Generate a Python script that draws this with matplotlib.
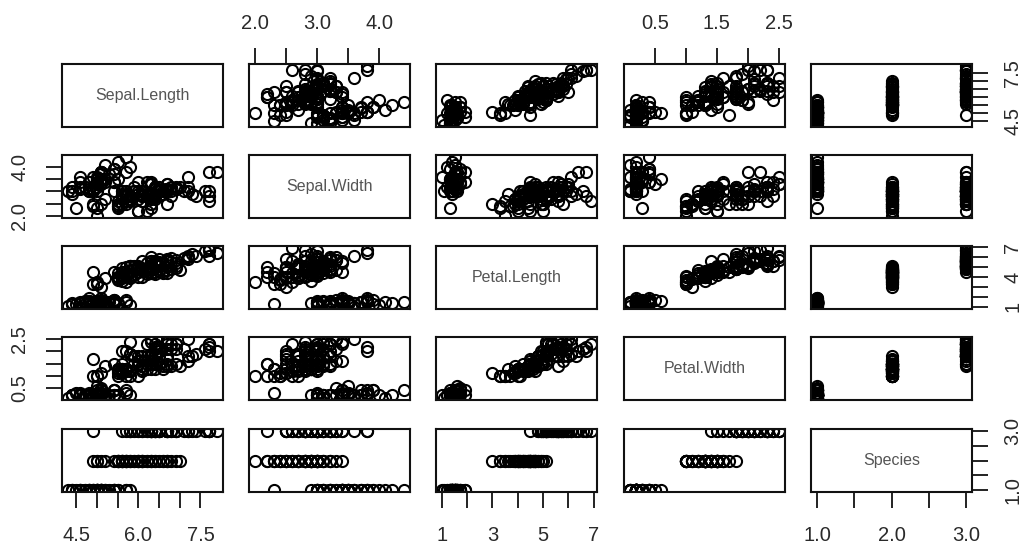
import matplotlib
matplotlib.use("Agg")
import matplotlib.pyplot as plt
import numpy as np

plt.rcParams['font.family'] = ['Liberation Sans', 'DejaVu Sans']

# iris data
sepal_length = [5.1,4.9,4.7,4.6,5.0,5.4,4.6,5.0,4.4,4.9,5.4,4.8,4.8,4.3,5.8,5.7,5.4,5.1,5.7,5.1,
                5.4,5.1,4.6,5.1,4.8,5.0,5.0,5.2,5.2,4.7,4.8,5.4,5.2,5.5,4.9,5.0,5.5,4.9,4.4,5.1,
                5.0,4.5,4.4,5.0,5.1,4.8,5.1,4.6,5.3,5.0,
                7.0,6.4,6.9,5.5,6.5,5.7,6.3,4.9,6.6,5.2,5.0,5.9,6.0,6.1,5.6,6.7,5.6,5.8,6.2,5.6,
                5.9,6.1,6.3,6.1,6.4,6.6,6.8,6.7,6.0,5.7,5.5,5.5,5.8,6.0,5.4,6.0,6.7,6.3,5.6,5.5,
                5.5,6.1,5.8,5.0,5.6,5.7,5.7,6.2,5.1,5.7,
                6.3,5.8,7.1,6.3,6.5,7.6,4.9,7.3,6.7,7.2,6.5,6.4,6.8,5.7,5.8,6.4,6.5,7.7,7.7,6.0,
                6.9,5.6,7.7,6.3,6.7,7.2,6.2,6.1,6.4,7.2,7.4,7.9,6.4,6.3,6.1,7.7,6.3,6.4,6.0,6.9,
                6.7,6.9,5.8,6.8,6.7,6.7,6.3,6.5,6.2,5.9]
sepal_width = [3.5,3.0,3.2,3.1,3.6,3.9,3.4,3.4,2.9,3.1,3.7,3.4,3.0,3.0,4.0,4.4,3.9,3.5,3.8,3.8,
               3.4,3.7,3.6,3.3,3.4,3.0,3.4,3.5,3.4,3.2,3.1,3.4,4.1,4.2,3.1,3.2,3.5,3.6,3.0,3.4,
               3.5,2.3,3.2,3.5,3.8,3.0,3.8,3.2,3.7,3.3,
               3.2,3.2,3.1,2.3,2.8,2.8,3.3,2.4,2.9,2.7,2.0,3.0,2.2,2.9,2.9,3.1,3.0,2.7,2.2,2.5,
               3.2,2.8,2.5,2.8,2.9,3.0,2.8,3.0,2.9,2.6,2.4,2.4,2.7,2.7,3.0,3.4,3.1,2.3,3.0,2.5,
               2.6,3.0,2.6,2.3,2.7,3.0,2.9,2.9,2.5,2.8,
               3.3,2.7,3.0,2.9,3.0,3.0,2.5,2.9,2.5,3.6,3.2,2.7,3.0,2.5,2.8,3.2,3.0,3.8,2.6,2.2,
               3.2,2.8,2.8,2.7,3.3,3.2,2.8,3.0,2.8,3.0,2.8,3.8,2.8,2.8,2.6,3.0,3.4,3.1,3.0,3.1,
               3.1,3.1,2.7,3.2,3.3,3.0,2.5,3.0,3.4,3.0]
petal_length = [1.4,1.4,1.3,1.5,1.4,1.7,1.4,1.5,1.4,1.5,1.5,1.6,1.4,1.1,1.2,1.5,1.3,1.4,1.7,1.5,
                1.7,1.5,1.0,1.7,1.9,1.6,1.6,1.5,1.4,1.6,1.6,1.5,1.5,1.4,1.5,1.2,1.3,1.4,1.3,1.5,
                1.3,1.3,1.3,1.6,1.9,1.4,1.6,1.4,1.5,1.4,
                4.7,4.5,4.9,4.0,4.6,4.5,4.7,3.3,4.6,3.9,3.5,4.2,4.0,4.7,3.6,4.4,4.5,4.1,4.5,3.9,
                4.8,4.0,4.9,4.7,4.3,4.4,4.8,5.0,4.5,3.5,3.8,3.7,3.9,5.1,4.5,4.5,4.7,4.4,4.1,4.0,
                4.4,4.6,4.0,3.3,4.2,4.2,4.2,4.3,3.0,4.1,
                6.0,5.1,5.9,5.6,5.8,6.6,4.5,6.3,5.8,6.1,5.1,5.3,5.5,5.0,5.1,5.3,5.5,6.7,6.9,5.0,
                5.7,4.9,6.7,4.9,5.7,6.0,4.8,4.9,5.6,5.8,6.1,6.4,5.6,5.1,5.6,6.1,5.6,5.5,4.8,5.4,
                5.6,5.1,5.1,5.9,5.7,5.2,5.0,5.2,5.4,5.1]
petal_width = [0.2,0.2,0.2,0.2,0.2,0.4,0.3,0.2,0.2,0.1,0.2,0.2,0.1,0.1,0.2,0.4,0.4,0.3,0.3,0.3,
               0.2,0.4,0.2,0.5,0.2,0.2,0.4,0.2,0.2,0.2,0.2,0.4,0.1,0.2,0.2,0.2,0.2,0.1,0.2,0.2,
               0.3,0.3,0.2,0.6,0.4,0.3,0.2,0.2,0.2,0.2,
               1.4,1.5,1.5,1.3,1.5,1.3,1.6,1.0,1.3,1.4,1.0,1.5,1.0,1.4,1.3,1.4,1.5,1.0,1.5,1.1,
               1.8,1.3,1.5,1.2,1.3,1.4,1.4,1.7,1.5,1.0,1.1,1.0,1.2,1.6,1.5,1.6,1.5,1.3,1.3,1.3,
               1.2,1.4,1.2,1.0,1.3,1.2,1.3,1.3,1.1,1.3,
               2.5,1.9,2.1,1.8,2.2,2.1,1.7,1.8,1.8,2.5,2.0,1.9,2.1,2.0,2.4,2.3,1.8,2.2,2.3,1.5,
               2.3,2.0,2.0,1.8,2.1,1.8,1.8,1.8,2.1,1.6,1.9,2.0,2.2,1.5,1.4,2.3,2.4,1.8,1.8,2.1,
               2.4,2.3,1.9,2.3,2.5,2.3,1.9,2.0,2.3,1.8]
species = ['setosa'] * 50 + ['versicolor'] * 50 + ['virginica'] * 50
species_levels = ['setosa', 'versicolor', 'virginica']

var_names = ['Sepal.Length', 'Sepal.Width', 'Petal.Length', 'Petal.Width', 'Species']

# tick positions, labels along the long (horizontal) side, labels along the short side
ticks = [[4.5, 5.0, 5.5, 6.0, 6.5, 7.0, 7.5],
         [2.0, 2.5, 3.0, 3.5, 4.0],
         [1, 2, 3, 4, 5, 6, 7],
         [0.5, 1.0, 1.5, 2.0, 2.5],
         [1.0, 1.5, 2.0, 2.5, 3.0]]
xlabels = [['4.5', '', '', '6.0', '', '', '7.5'],
           ['2.0', '', '3.0', '', '4.0'],
           ['1', '', '3', '', '5', '', '7'],
           ['0.5', '', '1.5', '', '2.5'],
           ['1.0', '', '2.0', '', '3.0']]
ylabels = [['4.5', '', '', '', '', '', '7.5'],
           ['2.0', '', '', '', '4.0'],
           ['1', '', '', '4', '', '', '7'],
           ['0.5', '', '', '', '2.5'],
           ['1.0', '', '', '', '3.0']]

species_code = [species_levels.index(s) + 1 for s in species]
data = [np.array(sepal_length), np.array(sepal_width), np.array(petal_length),
        np.array(petal_width), np.array(species_code, dtype=float)]

W, H = 1027, 548
fig = plt.figure(figsize=(W / 100, H / 100), dpi=100)

col_left = [62, 249, 436, 624, 811]
row_top = [64, 155, 246, 337, 429]
pw, ph = 161, 63
txt = '#2a2a2a'
fs = 14.5

n = len(var_names)
for i in range(n):
    for j in range(n):
        ax = fig.add_axes([col_left[j] / W, 1 - (row_top[i] + ph) / H, pw / W, ph / H])
        for s in ax.spines.values():
            s.set_linewidth(1.5)
            s.set_color('#111111')
        xd, yd = data[j], data[i]
        xr = xd.max() - xd.min()
        yr = yd.max() - yd.min()
        ax.set_xlim(xd.min() - 0.04 * xr, xd.max() + 0.04 * xr)
        ax.set_ylim(yd.min() - 0.04 * yr, yd.max() + 0.04 * yr)
        if i == j:
            ax.text(0.5, 0.5, var_names[i], transform=ax.transAxes, ha='center', va='center',
                    fontsize=11.5, color='#555555')
        else:
            ax.plot(xd, yd, 'o', mfc='none', mec='black', ms=8, mew=1.5)

        ax.set_xticks([])
        ax.set_yticks([])
        ax.tick_params(axis='both', direction='out', length=11.5, width=1.3, color='#111111',
                       labelsize=fs, labelcolor=txt)
        # axes alternate like R pairs()
        if i == 0 and j % 2 == 1:
            ax.xaxis.tick_top()
            ax.set_xticks(ticks[j])
            ax.set_xticklabels(xlabels[j])
            ax.tick_params(axis='x', pad=11)
        if i == n - 1 and j % 2 == 0:
            ax.set_xticks(ticks[j])
            ax.set_xticklabels(xlabels[j])
            ax.tick_params(axis='x', pad=13)
        if j == 0 and i % 2 == 1:
            ax.set_yticks(ticks[i])
            ax.set_yticklabels(ylabels[i], rotation=90, va='center')
            ax.tick_params(axis='y', pad=12)
        if j == n - 1 and i % 2 == 0:
            ax.yaxis.tick_right()
            ax.set_yticks(ticks[i])
            ax.set_yticklabels(ylabels[i], rotation=90, va='center')
            ax.tick_params(axis='y', pad=11)

fig.savefig('out.png', dpi=100, facecolor='white')
